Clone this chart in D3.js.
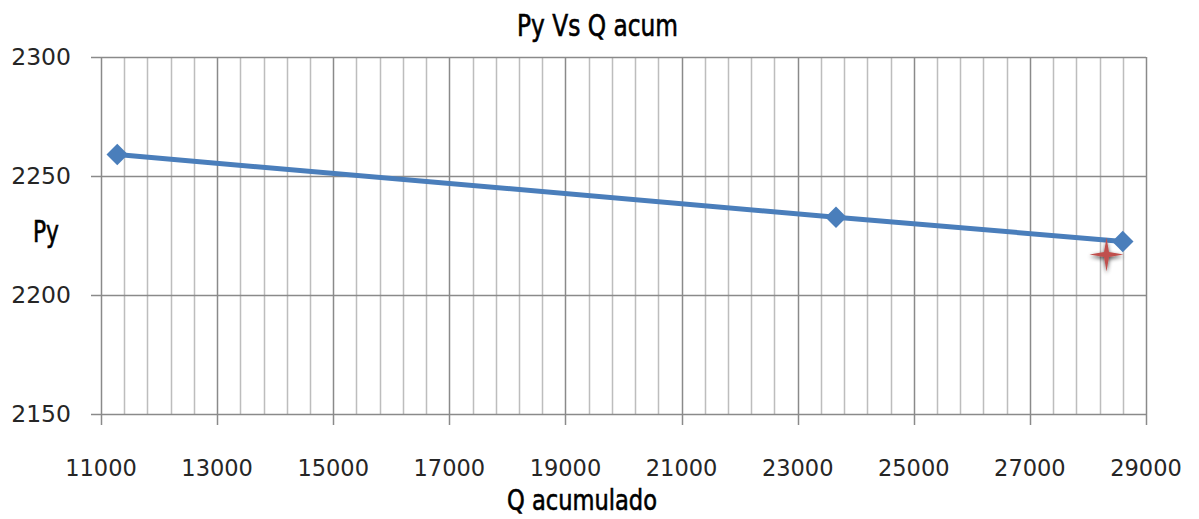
<!DOCTYPE html>
<html>
<head>
<meta charset="utf-8">
<script src="https://cdn.jsdelivr.net/npm/d3@7"></script>
<style>
  body { margin: 0; background: #fff; }
  svg { display: block; }
</style>
</head>
<body>
<script>
//////////////////////
// DATA //
const qAcum = [11280, 23660, 28600];
const pyVals = [2259, 2232.7, 2222.5];
const markQ = [28320];
const markPy = [2217];
const xTicks = [11000, 13000, 15000, 17000, 19000, 21000, 23000, 25000, 27000, 29000];
const yTicks = [2150, 2200, 2250, 2300];
const titleText = "Py Vs Q acum";
const xLabel = "Q acumulado";
const yLabel = "Py";
//////////////////////

const w = 1199;
const h = 519;
const plot = { left: 101, right: 1146, top: 57, bottom: 414 };

let svg = d3.select("body")
  .append("svg")
  .attr("width", w)
  .attr("height", h);

let xScale = d3.scaleLinear().domain([11000, 29000]).range([plot.left, plot.right]);
let yScale = d3.scaleLinear().domain([2150, 2300]).range([plot.bottom, plot.top]);

// minor vertical grid every 400 (skip the major ones)
const minorX = d3.range(11400, 29000, 400).filter(v => (v - 11000) % 2000 !== 0);
svg.append("g")
  .selectAll("line")
  .data(minorX)
  .enter()
  .append("line")
  .attr("x1", d => Math.round(xScale(d)) + 0.5)
  .attr("x2", d => Math.round(xScale(d)) + 0.5)
  .attr("y1", plot.top)
  .attr("y2", plot.bottom)
  .attr("stroke", "#bdbdbd")
  .attr("stroke-width", 1.5);

// major vertical grid + x ticks
svg.append("g")
  .selectAll("line")
  .data(xTicks)
  .enter()
  .append("line")
  .attr("x1", d => Math.round(xScale(d)) + 0.5)
  .attr("x2", d => Math.round(xScale(d)) + 0.5)
  .attr("y1", plot.top)
  .attr("y2", plot.bottom + 11)
  .attr("stroke", "#8a8a8a")
  .attr("stroke-width", 1.5);

// horizontal grid + y ticks
svg.append("g")
  .selectAll("line")
  .data(yTicks)
  .enter()
  .append("line")
  .attr("x1", plot.left - 10)
  .attr("x2", plot.right)
  .attr("y1", d => Math.round(yScale(d)) + 0.5)
  .attr("y2", d => Math.round(yScale(d)) + 0.5)
  .attr("stroke", "#8a8a8a")
  .attr("stroke-width", 1.5);

// tick labels
svg.append("g")
  .selectAll("text")
  .data(xTicks)
  .enter()
  .append("text")
  .attr("x", d => xScale(d))
  .attr("y", 476)
  .attr("text-anchor", "middle")
  .attr("font-family", "DejaVu Sans, sans-serif")
  .attr("font-size", 22.5)
  .attr("fill", "#262626")
  .text(d => d);

svg.append("g")
  .selectAll("text")
  .data(yTicks)
  .enter()
  .append("text")
  .attr("x", 71)
  .attr("y", d => yScale(d) + 8)
  .attr("text-anchor", "end")
  .attr("font-family", "DejaVu Sans, sans-serif")
  .attr("font-size", 23.5)
  .attr("fill", "#262626")
  .text(d => d);

// titles
const narrow = "'Liberation Sans Narrow', 'DejaVu Sans Condensed', sans-serif";
svg.append("text")
  .attr("x", 517).attr("y", 36)
  .attr("font-family", narrow)
  .attr("font-size", 31)
  .attr("textLength", 161)
  .attr("lengthAdjust", "spacingAndGlyphs")
  .attr("fill", "#000")
  .attr("stroke", "#000")
  .attr("stroke-width", 0.6)
  .text(titleText);

svg.append("text")
  .attr("x", 33).attr("y", 242)
  .attr("font-family", narrow)
  .attr("font-size", 30)
  .attr("textLength", 26)
  .attr("lengthAdjust", "spacingAndGlyphs")
  .attr("fill", "#000")
  .attr("stroke", "#000")
  .attr("stroke-width", 0.6)
  .text(yLabel);

svg.append("text")
  .attr("x", 507).attr("y", 510)
  .attr("font-family", narrow)
  .attr("font-size", 29)
  .attr("textLength", 150)
  .attr("lengthAdjust", "spacingAndGlyphs")
  .attr("fill", "#000")
  .attr("stroke", "#000")
  .attr("stroke-width", 0.6)
  .text(xLabel);

// series line
let pts = qAcum.map((q, i) => [q, pyVals[i]]);
let line = d3.line().x(d => xScale(d[0])).y(d => yScale(d[1]));
svg.append("path")
  .datum(pts)
  .attr("d", line)
  .attr("fill", "none")
  .attr("stroke", "#4a7ebb")
  .attr("stroke-width", 5)
  .attr("stroke-linejoin", "round");

// diamond markers
svg.append("g")
  .selectAll("path")
  .data(pts)
  .enter()
  .append("path")
  .attr("d", d3.symbol(d3.symbolSquare, 230))
  .attr("transform", d => "translate(" + xScale(d[0]) + "," + yScale(d[1]) + ") rotate(45)")
  .attr("fill", "#4a7ebb");

// red 4-point star marker with soft shadow
let defs = svg.append("defs");
let f = defs.append("filter").attr("id", "glow").attr("x", "-60%").attr("y", "-60%").attr("width", "220%").attr("height", "220%");
f.append("feGaussianBlur").attr("in", "SourceAlpha").attr("stdDeviation", 2.2).attr("result", "b");
f.append("feOffset").attr("in", "b").attr("dx", 0).attr("dy", 2).attr("result", "o");
f.append("feComponentTransfer").attr("in", "o").attr("result", "s")
  .append("feFuncA").attr("type", "linear").attr("slope", 0.75);
let m = f.append("feMerge");
m.append("feMergeNode").attr("in", "s");
m.append("feMergeNode").attr("in", "SourceGraphic");

const starPts = d3.range(8).map(i => [i * Math.PI / 4, i % 2 === 0 ? 17 : 3.5]);
let star = d3.lineRadial().curve(d3.curveLinearClosed);
svg.append("g")
  .selectAll("path")
  .data(markQ.map((q, i) => [q, markPy[i]]))
  .enter()
  .append("path")
  .attr("d", star(starPts))
  .attr("transform", d => "translate(" + xScale(d[0]) + "," + yScale(d[1]) + ")")
  .attr("fill", "#c0504d")
  .attr("filter", "url(#glow)");
</script>
</body>
</html>
